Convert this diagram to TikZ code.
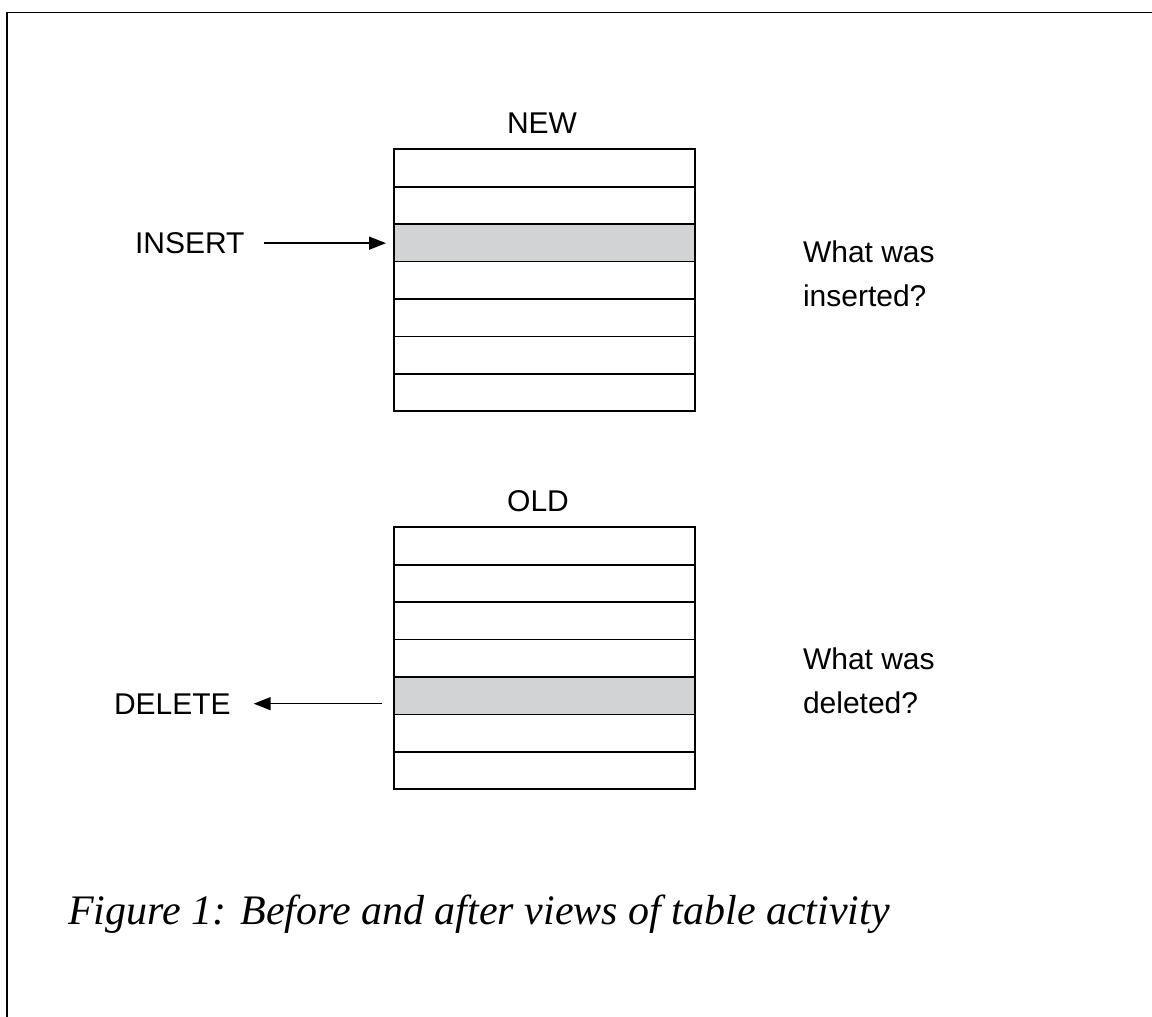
\documentclass[tikz,border=0pt]{standalone}
\usepackage{fontspec}
\setmainfont{Liberation Serif}
\setsansfont{Liberation Sans}
\usetikzlibrary{arrows.meta}
\definecolor{rowgray}{RGB}{210,211,213}
\begin{document}
\begin{tikzpicture}[x=1pt,y=-1pt,
  rowbox/.style={draw=black, line width=1.7pt, minimum width=301pt, minimum height=37.43pt, inner sep=0pt, outer sep=0pt, fill=white},
  hilite/.style={rowbox, fill=rowgray},
  lbl/.style={font=\sffamily\fontsize{30}{44}\selectfont, inner sep=0pt, outer sep=0pt},
  arr/.style={line width=1.5pt, -{Triangle[length=17pt,width=13pt]}},
  frameline/.style={line width=1.6pt}]
\useasboundingbox (0,0) rectangle (1152,1017);
% frame
\coordinate (fTR) at (1152,12.5);
\coordinate (fTL) at (7,12.5);
\coordinate (fBL) at (7,1017);
\draw[frameline] (fTR) -- (fTL) -- (fBL);
% NEW table
\foreach \k in {1,...,7} {
  \node[rowbox] (n\k) at (544.5,{149.3+18.715+(\k-1)*37.43}) {};
}
\node[hilite] at (n3) {};
% OLD table
\foreach \k in {1,...,7} {
  \node[rowbox] (o\k) at (544.5,{527.3+18.715+(\k-1)*37.43}) {};
}
\node[hilite] at (o5) {};
% titles
\node[lbl, anchor=base] (newt) at (542,133.5) {NEW};
\node[lbl, anchor=base] (oldt) at (538,511) {OLD};
% INSERT
\node[lbl, anchor=base west] (ins) at (135,253.5) {INSERT};
\draw[arr] ([xshift=20pt]ins.east) -- ([xshift=-8pt]n3.west |- ins.east);
% DELETE
\node[lbl, anchor=base west] (del) at (114,714) {DELETE};
\draw[arr] ([xshift=-12pt]o5.west |- del.east) -- ([xshift=23pt]del.east);
% questions
\node[lbl, anchor=base west, align=left] (qins) at (803,306) {What was\\inserted?};
\node[lbl, anchor=base west, align=left] (qdel) at (803,713) {What was\\deleted?};
% caption
\node[anchor=base west, inner sep=0pt, font=\fontsize{42}{50}\selectfont\itshape] (cap) at (68,924) {Figure 1: Before and after views of table activity};
\end{tikzpicture}
\end{document}
